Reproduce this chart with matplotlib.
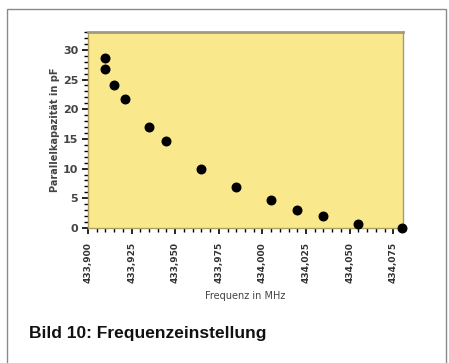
import matplotlib
matplotlib.use("Agg")
import matplotlib.pyplot as plt
from matplotlib.ticker import MultipleLocator, FuncFormatter
from matplotlib.patches import Rectangle

# Frequenz in MHz / Parallelkapazitaet in pF
freq = [433.910, 433.910, 433.915, 433.921, 433.935, 433.945, 433.965,
        433.985, 434.005, 434.020, 434.035, 434.055, 434.080]
cap = [28.7, 26.8, 24.0, 21.8, 17.0, 14.6, 9.9, 6.9, 4.7, 3.1, 2.0, 0.7, 0.0]

x_ticks = [433.900, 433.925, 433.950, 433.975, 434.000, 434.025, 434.050, 434.075]
y_ticks = [0, 5, 10, 15, 20, 25, 30]

fig = plt.figure(figsize=(4.49, 3.63), dpi=100)
fig.patch.set_facecolor("white")

# outer frame
fig.patches.append(Rectangle((7 / 449, -0.05), 439 / 449, 1 - 9 / 363 + 0.05,
                             transform=fig.transFigure, fill=False,
                             edgecolor="#8a8a8a", linewidth=1.0))

ax = fig.add_axes([88 / 449, 1 - 228 / 363, 315 / 449, 196 / 363])
ax.set_facecolor("#f9e98c")
ax.scatter(freq, cap, s=38, color="black", zorder=3, clip_on=False)

ax.set_xlim(433.900, 434.0806)
ax.set_ylim(0, 33)
ax.set_xticks(x_ticks)
ax.set_yticks(y_ticks)
ax.xaxis.set_minor_locator(MultipleLocator(0.005))
ax.yaxis.set_minor_locator(MultipleLocator(1))
ax.xaxis.set_major_formatter(FuncFormatter(lambda v, p: f"{v:.3f}".replace(".", ",")))

ax.tick_params(axis="x", which="major", rotation=90, labelsize=6.5, length=4,
               width=1.2, pad=6, labelcolor="#333333")
ax.tick_params(axis="y", which="major", labelsize=8, length=4, width=1.2,
               pad=3, labelcolor="#444444")
ax.tick_params(which="minor", length=3, width=1.0)
for lab in ax.get_xticklabels() + ax.get_yticklabels():
    lab.set_fontweight("bold")

for side in ["left", "bottom"]:
    ax.spines[side].set_color("#b0a060")
    ax.spines[side].set_linewidth(1.0)
ax.spines["top"].set_color("#a09a80")
ax.spines["top"].set_linewidth(2.0)
ax.spines["right"].set_color("#a09a80")
ax.spines["right"].set_linewidth(1.0)

ax.set_xlabel("Frequenz in MHz", fontsize=7, color="#444444", labelpad=6)
ax.set_ylabel("Parallelkapazität in pF", fontsize=7, color="#444444",
              fontweight="bold", labelpad=2)

fig.text(29 / 449, 1 - 338 / 363, "Bild 10: Frequenzeinstellung",
         fontsize=12.5, fontweight="bold", family="Liberation Sans", color="#111111")

fig.savefig("out.png", dpi=100)
